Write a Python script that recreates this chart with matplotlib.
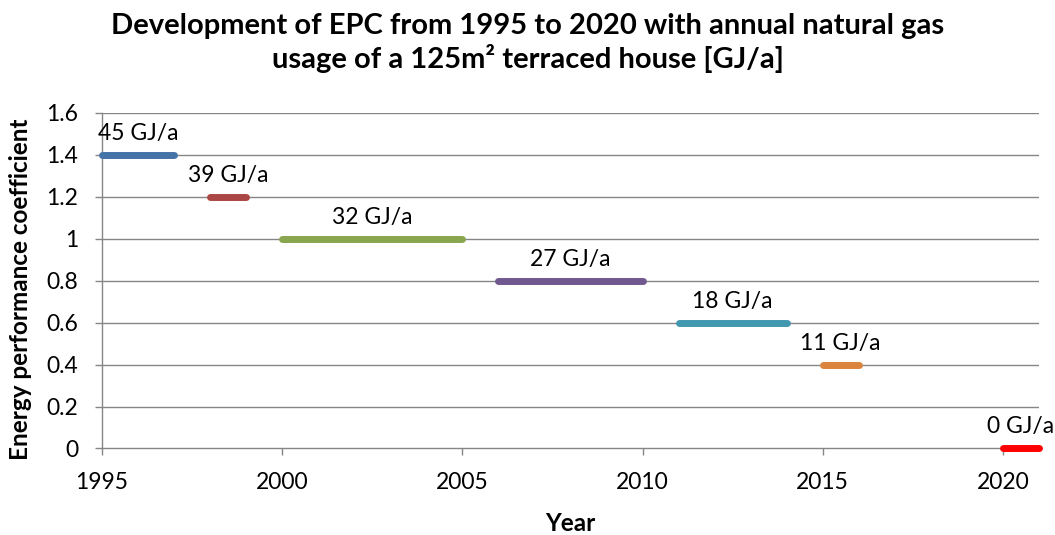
import matplotlib
matplotlib.use("Agg")
import matplotlib.pyplot as plt

plt.rcParams['font.family'] = ['Lato', 'DejaVu Sans']

# EPC periods: start year, end year, coefficient, annual gas usage
start_years = [1995, 1998, 2000, 2006, 2011, 2015, 2020]
end_years = [1997, 1999, 2005, 2010, 2014, 2016, 2021]
epc_values = [1.4, 1.2, 1.0, 0.8, 0.6, 0.4, 0.0]
gas_usage = [45, 39, 32, 27, 18, 11, 0]
colors = ['#4572A7', '#AA4643', '#89A54E', '#71588F', '#4198AF', '#DB843D', '#FF0000']

x_ticks = [1995, 2000, 2005, 2010, 2015, 2020]
y_ticks = [0, 0.2, 0.4, 0.6, 0.8, 1.0, 1.2, 1.4, 1.6]
y_tick_labels = ['0', '0.2', '0.4', '0.6', '0.8', '1', '1.2', '1.4', '1.6']

fig = plt.figure(figsize=(10.55, 5.35), dpi=100)
ax = fig.add_axes([0.0967, 0.1617, 0.888, 0.6273])

grid_color = '#868686'
for y in y_ticks[1:]:
    ax.axhline(y, color=grid_color, lw=1.0, zorder=1)

for x0, x1, y, g, c in zip(start_years, end_years, epc_values, gas_usage, colors):
    ax.plot([x0, x1], [y, y], color=c, lw=5.0, solid_capstyle='round',
            zorder=3, clip_on=False)
    ax.annotate(f"{g} GJ/a", xy=((x0 + x1) / 2, y), xytext=(0, 15.5),
                textcoords='offset points', ha='center', va='center',
                fontsize=16.5, color='black', zorder=4)

ax.set_xlim(1995, 2021)
ax.set_ylim(0, 1.6)
ax.set_xticks(x_ticks)
ax.set_xticklabels([str(t) for t in x_ticks])
ax.set_yticks(y_ticks)
ax.set_yticklabels(y_tick_labels)

for side in ['top', 'right']:
    ax.spines[side].set_visible(False)
for side in ['left', 'bottom']:
    ax.spines[side].set_color(grid_color)
    ax.spines[side].set_linewidth(1.0)
ax.spines['bottom'].set_zorder(2)

ax.tick_params(axis='both', which='major', direction='out', length=5,
               width=1.0, color=grid_color, labelsize=16.5)
ax.tick_params(axis='y', pad=12)
ax.tick_params(axis='x', pad=12)

ax.set_xlabel('Year', fontsize=17.5, fontweight='bold', va='center')
ax.xaxis.set_label_coords(0.5, -0.2235)
ax.set_ylabel('Energy performance coefficient', fontsize=17.5,
              fontweight='bold', va='center')
ax.yaxis.set_label_coords(-0.0875, 0.475)

fig.text(0.5, 0.919, 'Development of EPC from 1995 to 2020 with annual natural gas\n'
         'usage of a 125m² terraced house [GJ/a]',
         ha='center', va='center', fontsize=21, fontweight='bold',
         linespacing=1.22)

fig.savefig('out.png', dpi=100)
